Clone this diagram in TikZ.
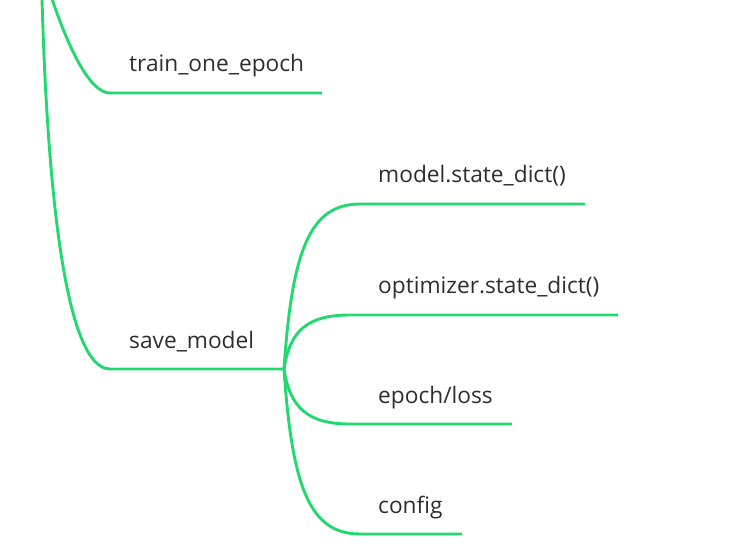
\documentclass[tikz,border=0pt]{standalone}
\usepackage{fontspec}
\setmainfont{Open Sans}
\usetikzlibrary{positioning}
\definecolor{branch}{HTML}{22D86F}
\definecolor{labeltext}{HTML}{2E2E2E}

\begin{document}
\begin{tikzpicture}[x=1pt,y=-1pt,
  edge/.style={draw=branch,line width=2.9pt},
  leaf/.style={font=\fontsize{22.7}{26}\selectfont,text=labeltext,inner sep=0pt,anchor=base west}]
\useasboundingbox (0,0) rectangle (729,559);
\clip (0,0) rectangle (729,559);
%
\coordinate (rootA) at (42,-1);
\coordinate (rootB) at (52,-1);
\coordinate (train) at (110,93);
\coordinate (trainEnd) at (322,93);
\coordinate (save) at (110,369);
\coordinate (fork) at (284,369);
\coordinate (model) at (360,204);
\coordinate (modelEnd) at (585,204);
\coordinate (optim) at (350,315);
\coordinate (optimEnd) at (618,315);
\coordinate (epoch) at (350,424);
\coordinate (epochEnd) at (512,424);
\coordinate (config) at (360,534);
\coordinate (configEnd) at (462,534);
%
\draw[edge] (rootB) .. controls (69,49) and (90,93) .. (train) -- (trainEnd);
\draw[edge] (rootA) .. controls (48,210) and (68,369) .. (save) -- (fork);
\draw[edge] (fork) .. controls (292,250) and (310,204) .. (model) -- (modelEnd);
\draw[edge] (fork) .. controls (290,330) and (308,315) .. (optim) -- (optimEnd);
\draw[edge] (fork) .. controls (290,408) and (308,424) .. (epoch) -- (epochEnd);
\draw[edge] (fork) .. controls (292,488) and (310,534) .. (config) -- (configEnd);
%
\node[leaf] (trainLabel) at (129,72) {train\_one\_epoch};
\node[leaf] (saveLabel) at (129,348) {save\_model};
\node[leaf] (modelLabel) at (378,183) {model.state\_dict()};
\node[leaf] (optimLabel) at (378,294) {optimizer.state\_dict()};
\node[leaf] (epochLabel) at (378,403) {epoch/loss};
\node[leaf] (configLabel) at (378,513) {config};
\end{tikzpicture}
\end{document}
